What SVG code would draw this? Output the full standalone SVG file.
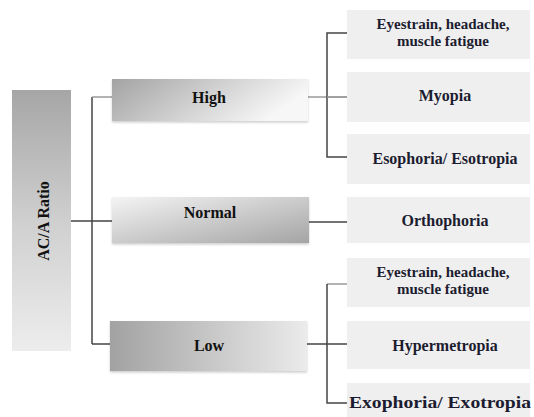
<svg xmlns="http://www.w3.org/2000/svg" width="534" height="417" viewBox="0 0 534 417">
<defs>
<linearGradient id="gRatio" x1="0" y1="0" x2="0" y2="1"><stop offset="0" stop-color="#a6a6a6"/><stop offset="0.5" stop-color="#cfcfcf"/><stop offset="1" stop-color="#ededed"/></linearGradient>
<linearGradient id="gHigh" x1="0" y1="0" x2="1" y2="0.3"><stop offset="0" stop-color="#a3a3a3"/><stop offset="1" stop-color="#f7f7f7"/></linearGradient>
<linearGradient id="gNormal" x1="0" y1="0" x2="1" y2="1"><stop offset="0" stop-color="#f4f4f4"/><stop offset="1" stop-color="#a4a4a4"/></linearGradient>
<linearGradient id="gLow" x1="0" y1="0" x2="1" y2="0"><stop offset="0" stop-color="#a2a2a2"/><stop offset="1" stop-color="#ebebeb"/></linearGradient>
<filter id="sh" x="-5%" y="-10%" width="110%" height="130%"><feDropShadow dx="0" dy="1.5" stdDeviation="1.2" flood-color="#000" flood-opacity="0.2"/></filter>
</defs>
<style>
.t{font-family:"Liberation Serif","Times New Roman",serif;font-weight:bold;font-size:16px;text-anchor:middle;fill:#111}
.r{fill:#1c1c30}
.s{font-size:15px}
.leaf{fill:#efefef}
.c{fill:none;stroke:#444;stroke-width:1.5}
.cl{fill:none;stroke:#9a9a9a;stroke-width:1.5}
</style>
<g id="connectors">
<path class="c" d="M92,97 V344 M71,221 H130"/>
<path class="cl" d="M92,97 H112"/>
<path class="c" d="M92,344 H110"/>
<path class="cl" d="M308,97 H347"/>
<path class="c" d="M347,33 H327 V157 H347"/>
<path class="cl" d="M327,97 H347"/>
<path class="c" d="M309,222 H347"/>
<path class="cl" d="M347,284 H327"/>
<path class="c" d="M327,284 V403 H347 M307,344 H347"/>
</g>
<g id="node-ratio"><rect x="12" y="90" width="59" height="261" fill="url(#gRatio)"/><text class="t" transform="translate(49,221) rotate(-90)">AC/A Ratio</text></g>
<g id="node-high"><rect x="112" y="79" width="196" height="42" fill="url(#gHigh)" filter="url(#sh)"/><text class="t" x="209" y="103">High</text></g>
<g id="node-normal"><rect x="112" y="197" width="197" height="46" fill="url(#gNormal)" filter="url(#sh)"/><text class="t" x="210" y="218">Normal</text></g>
<g id="node-low"><rect x="110" y="321" width="197" height="50" fill="url(#gLow)" filter="url(#sh)"/><text class="t" x="209" y="351">Low</text></g>
<g id="leaf-1"><rect class="leaf" x="347" y="10" width="183" height="49"/><text class="t r s" x="443" y="29">Eyestrain, headache,</text><text class="t r s" x="443" y="46">muscle fatigue</text></g>
<g id="leaf-2"><rect class="leaf" x="347" y="72" width="183" height="50"/><text class="t r" x="445" y="101">Myopia</text></g>
<g id="leaf-3"><rect class="leaf" x="347" y="134" width="183" height="50"/><text class="t r" x="445" y="164">Esophoria/ Esotropia</text></g>
<g id="leaf-4"><rect class="leaf" x="347" y="197" width="183" height="46"/><text class="t r" x="445" y="226">Orthophoria</text></g>
<g id="leaf-5"><rect class="leaf" x="347" y="258" width="183" height="49"/><text class="t r s" x="443" y="277">Eyestrain, headache,</text><text class="t r s" x="443" y="294">muscle fatigue</text></g>
<g id="leaf-6"><rect class="leaf" x="347" y="321" width="183" height="48"/><text class="t r" x="445" y="351">Hypermetropia</text></g>
<g id="leaf-7"><rect class="leaf" x="347" y="383" width="183" height="34"/><text class="t r" x="440" y="408" textLength="182" lengthAdjust="spacingAndGlyphs">Exophoria/ Exotropia</text></g>
</svg>
